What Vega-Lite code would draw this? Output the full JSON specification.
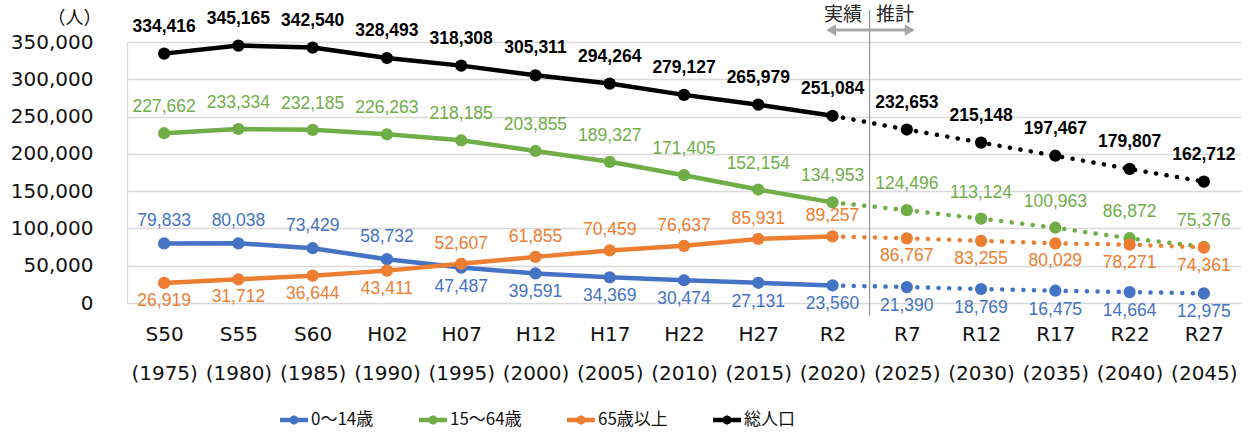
{
  "$schema": "https://vega.github.io/schema/vega-lite/v6.json",
  "autosize": {"type": "none"},
  "width": 1114,
  "height": 261,
  "padding": {"left": 127, "top": 42, "right": 12, "bottom": 132},
  "background": "white",
  "config": {"view": {"stroke": null}},
  "resolve": {"axis": {"x": "independent", "y": "independent"}},
  "datasets": {
    "pop": [
      {"period": "S50", "year": 1975, "series": "総人口", "value": 334416},
      {"period": "S55", "year": 1980, "series": "総人口", "value": 345165},
      {"period": "S60", "year": 1985, "series": "総人口", "value": 342540},
      {"period": "H02", "year": 1990, "series": "総人口", "value": 328493},
      {"period": "H07", "year": 1995, "series": "総人口", "value": 318308},
      {"period": "H12", "year": 2000, "series": "総人口", "value": 305311},
      {"period": "H17", "year": 2005, "series": "総人口", "value": 294264},
      {"period": "H22", "year": 2010, "series": "総人口", "value": 279127},
      {"period": "H27", "year": 2015, "series": "総人口", "value": 265979},
      {"period": "R2", "year": 2020, "series": "総人口", "value": 251084},
      {"period": "R7", "year": 2025, "series": "総人口", "value": 232653},
      {"period": "R12", "year": 2030, "series": "総人口", "value": 215148},
      {"period": "R17", "year": 2035, "series": "総人口", "value": 197467},
      {"period": "R22", "year": 2040, "series": "総人口", "value": 179807},
      {"period": "R27", "year": 2045, "series": "総人口", "value": 162712},
      {"period": "S50", "year": 1975, "series": "15～64歳", "value": 227662},
      {"period": "S55", "year": 1980, "series": "15～64歳", "value": 233334},
      {"period": "S60", "year": 1985, "series": "15～64歳", "value": 232185},
      {"period": "H02", "year": 1990, "series": "15～64歳", "value": 226263},
      {"period": "H07", "year": 1995, "series": "15～64歳", "value": 218185},
      {"period": "H12", "year": 2000, "series": "15～64歳", "value": 203855},
      {"period": "H17", "year": 2005, "series": "15～64歳", "value": 189327},
      {"period": "H22", "year": 2010, "series": "15～64歳", "value": 171405},
      {"period": "H27", "year": 2015, "series": "15～64歳", "value": 152154},
      {"period": "R2", "year": 2020, "series": "15～64歳", "value": 134953},
      {"period": "R7", "year": 2025, "series": "15～64歳", "value": 124496},
      {"period": "R12", "year": 2030, "series": "15～64歳", "value": 113124},
      {"period": "R17", "year": 2035, "series": "15～64歳", "value": 100963},
      {"period": "R22", "year": 2040, "series": "15～64歳", "value": 86872},
      {"period": "R27", "year": 2045, "series": "15～64歳", "value": 75376},
      {"period": "S50", "year": 1975, "series": "0～14歳", "value": 79833},
      {"period": "S55", "year": 1980, "series": "0～14歳", "value": 80038},
      {"period": "S60", "year": 1985, "series": "0～14歳", "value": 73429},
      {"period": "H02", "year": 1990, "series": "0～14歳", "value": 58732},
      {"period": "H07", "year": 1995, "series": "0～14歳", "value": 47487},
      {"period": "H12", "year": 2000, "series": "0～14歳", "value": 39591},
      {"period": "H17", "year": 2005, "series": "0～14歳", "value": 34369},
      {"period": "H22", "year": 2010, "series": "0～14歳", "value": 30474},
      {"period": "H27", "year": 2015, "series": "0～14歳", "value": 27131},
      {"period": "R2", "year": 2020, "series": "0～14歳", "value": 23560},
      {"period": "R7", "year": 2025, "series": "0～14歳", "value": 21390},
      {"period": "R12", "year": 2030, "series": "0～14歳", "value": 18769},
      {"period": "R17", "year": 2035, "series": "0～14歳", "value": 16475},
      {"period": "R22", "year": 2040, "series": "0～14歳", "value": 14664},
      {"period": "R27", "year": 2045, "series": "0～14歳", "value": 12975},
      {"period": "S50", "year": 1975, "series": "65歳以上", "value": 26919},
      {"period": "S55", "year": 1980, "series": "65歳以上", "value": 31712},
      {"period": "S60", "year": 1985, "series": "65歳以上", "value": 36644},
      {"period": "H02", "year": 1990, "series": "65歳以上", "value": 43411},
      {"period": "H07", "year": 1995, "series": "65歳以上", "value": 52607},
      {"period": "H12", "year": 2000, "series": "65歳以上", "value": 61855},
      {"period": "H17", "year": 2005, "series": "65歳以上", "value": 70459},
      {"period": "H22", "year": 2010, "series": "65歳以上", "value": 76637},
      {"period": "H27", "year": 2015, "series": "65歳以上", "value": 85931},
      {"period": "R2", "year": 2020, "series": "65歳以上", "value": 89257},
      {"period": "R7", "year": 2025, "series": "65歳以上", "value": 86767},
      {"period": "R12", "year": 2030, "series": "65歳以上", "value": 83255},
      {"period": "R17", "year": 2035, "series": "65歳以上", "value": 80029},
      {"period": "R22", "year": 2040, "series": "65歳以上", "value": 78271},
      {"period": "R27", "year": 2045, "series": "65歳以上", "value": 74361}
    ]
  },
  "layer": [
    {
      "data": {"name": "pop"},
      "transform": [{"filter": "datum.year <= 2020"}],
      "mark": {"type": "line", "strokeWidth": 4.5, "strokeJoin": "round"},
      "encoding": {
        "x": {
          "field": "year", "type": "quantitative",
          "scale": {"domain": [1972.5, 2047.5], "nice": false, "zero": false},
          "axis": {
            "title": null,
            "values": [1975, 1980, 1985, 1990, 1995, 2000, 2005, 2010, 2015, 2020, 2025, 2030, 2035, 2040, 2045],
            "labelExpr": "[{'1975':'S50','1980':'S55','1985':'S60','1990':'H02','1995':'H07','2000':'H12','2005':'H17','2010':'H22','2015':'H27','2020':'R2','2025':'R7','2030':'R12','2035':'R17','2040':'R22','2045':'R27'}[datum.value + ''], '(' + datum.value + ')']",
            "labelFont": "DejaVu Sans",
            "labelFontSize": 20,
            "labelColor": "#111111",
            "labelLineHeight": 39,
            "labelPadding": 21,
            "labelFlush": false,
            "labelOverlap": false,
            "ticks": false,
            "grid": false,
            "domain": false
          }
        },
        "y": {
          "field": "value", "type": "quantitative",
          "scale": {"domain": [0, 350000], "nice": false},
          "axis": {
            "title": "（人）",
            "titleAngle": 0,
            "titleX": -53,
            "titleY": -24,
            "titleAlign": "center",
            "titleBaseline": "middle",
            "titleFont": "Noto Sans CJK JP",
            "titleFontSize": 18,
            "titleFontWeight": "normal",
            "titleColor": "#111111",
            "values": [0, 50000, 100000, 150000, 200000, 250000, 300000, 350000],
            "labelExpr": "format(datum.value, ',')",
            "labelFont": "DejaVu Sans",
            "labelFontSize": 20,
            "labelColor": "#111111",
            "labelPadding": 34,
            "labelOverlap": false,
            "ticks": false,
            "grid": true,
            "gridColor": "#D9D9D9",
            "gridWidth": 1.3,
            "domain": true,
            "domainColor": "#D9D9D9",
            "domainWidth": 1.3
          }
        },
        "color": {
          "field": "series", "type": "nominal",
          "scale": {"domain": ["0～14歳", "15～64歳", "65歳以上", "総人口"], "range": ["#4472C4", "#70AD47", "#ED7D31", "#000000"]},
          "legend": {
            "title": null,
            "orient": "none",
            "legendX": 153,
            "legendY": 364,
            "direction": "horizontal",
            "symbolType": "M-1,-0.16 L1,-0.16 L1,0.16 L-1,0.16 Z M0.34,0 L0.24,0.24 L0,0.34 L-0.24,0.24 L-0.34,0 L-0.24,-0.24 L0,-0.34 L0.24,-0.24 Z",
            "symbolSize": 784,
            "symbolStrokeWidth": 0,
            "labelFont": "Noto Sans CJK JP",
            "labelFontSize": 17,
            "labelColor": "#111111",
            "labelOffset": 3,
            "columnPadding": 45,
            "encode": {"symbols": {"update": {"fill": {"scale": "color", "field": "value"}, "fillOpacity": {"value": 1}}}}
          }
        }
      }
    },
    {
      "data": {"name": "pop"},
      "transform": [{"filter": "datum.year >= 2020"}],
      "mark": {"type": "line", "strokeWidth": 4.5, "strokeDash": [0.1, 10.5], "strokeCap": "round"},
      "encoding": {
        "x": {"field": "year", "type": "quantitative", "axis": null},
        "y": {"field": "value", "type": "quantitative", "axis": null},
        "color": {"field": "series", "type": "nominal"}
      }
    },
    {
      "data": {"name": "pop"},
      "mark": {"type": "point", "filled": true, "opacity": 1, "size": 150, "shape": "circle", "strokeWidth": 0},
      "encoding": {
        "x": {"field": "year", "type": "quantitative", "axis": null},
        "y": {"field": "value", "type": "quantitative", "axis": null},
        "color": {"field": "series", "type": "nominal"}
      }
    },
    {
      "data": {"name": "pop"},
      "transform": [{"filter": "datum.series == '総人口'"}],
      "mark": {"type": "text", "dy": -27, "font": "Liberation Sans", "fontSize": 17.5, "fontWeight": "bold", "color": "#000000", "baseline": "middle"},
      "encoding": {
        "x": {"field": "year", "type": "quantitative", "axis": null},
        "y": {"field": "value", "type": "quantitative", "axis": null},
        "text": {"field": "value", "type": "quantitative", "format": ","}
      }
    },
    {
      "data": {"name": "pop"},
      "transform": [{"filter": "datum.series == '15～64歳'"}],
      "mark": {"type": "text", "dy": -26, "font": "Liberation Sans", "fontSize": 17.5, "color": "#70AD47", "baseline": "middle"},
      "encoding": {
        "x": {"field": "year", "type": "quantitative", "axis": null},
        "y": {"field": "value", "type": "quantitative", "axis": null},
        "text": {"field": "value", "type": "quantitative", "format": ","}
      }
    },
    {
      "data": {"name": "pop"},
      "transform": [{"filter": "datum.series == '0～14歳' && datum.year <= 1990"}],
      "mark": {"type": "text", "dy": -22, "font": "Liberation Sans", "fontSize": 17.5, "color": "#4472C4", "baseline": "middle"},
      "encoding": {
        "x": {"field": "year", "type": "quantitative", "axis": null},
        "y": {"field": "value", "type": "quantitative", "axis": null},
        "text": {"field": "value", "type": "quantitative", "format": ","}
      }
    },
    {
      "data": {"name": "pop"},
      "transform": [{"filter": "datum.series == '0～14歳' && datum.year >= 1995"}],
      "mark": {"type": "text", "dy": 19, "font": "Liberation Sans", "fontSize": 17.5, "color": "#4472C4", "baseline": "middle"},
      "encoding": {
        "x": {"field": "year", "type": "quantitative", "axis": null},
        "y": {"field": "value", "type": "quantitative", "axis": null},
        "text": {"field": "value", "type": "quantitative", "format": ","}
      }
    },
    {
      "data": {"name": "pop"},
      "transform": [{"filter": "datum.series == '65歳以上' && (datum.year <= 1990 || datum.year >= 2025)"}],
      "mark": {"type": "text", "dy": 18, "font": "Liberation Sans", "fontSize": 17.5, "color": "#ED7D31", "baseline": "middle"},
      "encoding": {
        "x": {"field": "year", "type": "quantitative", "axis": null},
        "y": {"field": "value", "type": "quantitative", "axis": null},
        "text": {"field": "value", "type": "quantitative", "format": ","}
      }
    },
    {
      "data": {"name": "pop"},
      "transform": [{"filter": "datum.series == '65歳以上' && datum.year >= 1995 && datum.year <= 2020"}],
      "mark": {"type": "text", "dy": -20, "font": "Liberation Sans", "fontSize": 17.5, "color": "#ED7D31", "baseline": "middle"},
      "encoding": {
        "x": {"field": "year", "type": "quantitative", "axis": null},
        "y": {"field": "value", "type": "quantitative", "axis": null},
        "text": {"field": "value", "type": "quantitative", "format": ","}
      }
    },
    {
      "data": {"values": [{}]},
      "mark": {"type": "rule", "color": "#808080", "strokeWidth": 1},
      "encoding": {
        "x": {"datum": 2022.5, "type": "quantitative", "axis": null},
        "y": {"datum": -17000, "type": "quantitative", "axis": null},
        "y2": {"datum": 393000}
      }
    },
    {
      "data": {"values": [{}]},
      "mark": {"type": "rule", "color": "#A6A6A6", "strokeWidth": 3},
      "encoding": {
        "x": {"datum": 2019.8, "type": "quantitative", "axis": null},
        "x2": {"datum": 2025.4},
        "y": {"datum": 366000, "type": "quantitative", "axis": null}
      }
    },
    {
      "data": {"values": [{}]},
      "mark": {"type": "point", "shape": "triangle-left", "filled": true, "color": "#A6A6A6", "opacity": 1, "size": 130},
      "encoding": {
        "x": {"datum": 2019.9, "type": "quantitative", "axis": null},
        "y": {"datum": 366000, "type": "quantitative", "axis": null}
      }
    },
    {
      "data": {"values": [{}]},
      "mark": {"type": "point", "shape": "triangle-right", "filled": true, "color": "#A6A6A6", "opacity": 1, "size": 130},
      "encoding": {
        "x": {"datum": 2025.2, "type": "quantitative", "axis": null},
        "y": {"datum": 366000, "type": "quantitative", "axis": null}
      }
    },
    {
      "data": {"values": [{"label": "実績", "pos": 2020.7}, {"label": "推計", "pos": 2024.2}]},
      "mark": {"type": "text", "font": "Noto Sans CJK JP", "fontSize": 19, "color": "#262626", "baseline": "middle"},
      "encoding": {
        "x": {"field": "pos", "type": "quantitative", "axis": null},
        "y": {"datum": 386000, "type": "quantitative", "axis": null},
        "text": {"field": "label"}
      }
    }
  ]
}
